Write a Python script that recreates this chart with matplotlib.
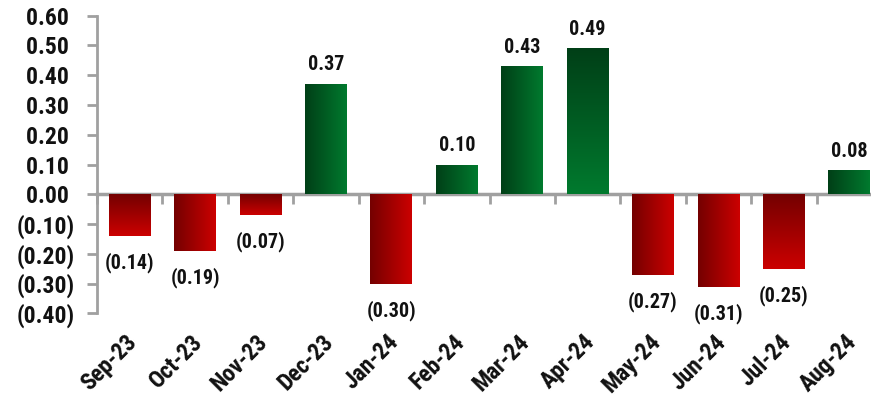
import numpy as np
import matplotlib
matplotlib.use("Agg")
import matplotlib.pyplot as plt
from matplotlib import font_manager
from matplotlib.colors import LinearSegmentedColormap
from matplotlib.ticker import FixedLocator, FuncFormatter
from matplotlib.transforms import ScaledTranslation

# ---- data ----
months = ["Sep-23", "Oct-23", "Nov-23", "Dec-23", "Jan-24", "Feb-24",
          "Mar-24", "Apr-24", "May-24", "Jun-24", "Jul-24", "Aug-24"]
values = [-0.14, -0.19, -0.07, 0.37, -0.30, 0.10, 0.43, 0.49,
          -0.27, -0.31, -0.25, 0.08]
y_ticks = [-0.40, -0.30, -0.20, -0.10, 0.00, 0.10, 0.20, 0.30, 0.40, 0.50, 0.60]

# style: gradient direction per bar (h = left->right, v = top->bottom)
grad_dir = ["v", "h", "v", "h", "h", "h", "h", "v", "h", "h", "v", "h"]

# ---- font ----
avail = {f.name for f in font_manager.fontManager.ttflist}
family = "Liberation Sans"
for cand in ["Liberation Sans Narrow", "Arial Narrow", "Roboto Condensed",
             "Open Sans Condensed", "Liberation Sans"]:
    if cand in avail:
        family = cand
        break
plt.rcParams["font.family"] = [family, "DejaVu Sans"]
plt.rcParams["font.weight"] = "bold"

W, H = 871, 396
fig = plt.figure(figsize=(W / 100, H / 100), dpi=100)
ax_left = 97 / W
ax_width = (882 - 97) / W
ax_bottom = (H - 313.3) / H
ax_height = (313.3 - 15.7) / H
ax = fig.add_axes([ax_left, ax_bottom, ax_width, ax_height])

x = np.arange(len(months))
bars = ax.bar(x, values, width=0.64, facecolor="none", edgecolor="none", zorder=3)

red_cmap = LinearSegmentedColormap.from_list("r", ["#740000", "#cc0000"])
green_cmap = LinearSegmentedColormap.from_list("g", ["#003f17", "#007a2e"])

for b, v, d in zip(bars, values, grad_dir):
    x0, y0 = b.get_x(), b.get_y()
    x1, y1 = x0 + b.get_width(), y0 + b.get_height()
    ylo, yhi = min(y0, y1), max(y0, y1)
    cmap = green_cmap if v >= 0 else red_cmap
    if d == "h":
        grad = np.linspace(0, 1, 256).reshape(1, -1)
    else:
        grad = np.linspace(0, 1, 256).reshape(-1, 1)  # origin upper: top dark
    im = ax.imshow(grad, cmap=cmap, extent=[x0, x1, ylo, yhi], aspect="auto",
                   origin="upper", zorder=3, interpolation="bilinear")
    im.set_clip_path(b)

    label = f"{v:.2f}" if v >= 0 else f"({abs(v):.2f})"
    if v >= 0:
        ax.annotate(label, (b.get_x() + b.get_width() / 2, v), xytext=(0, 7),
                    textcoords="offset points", ha="center", va="bottom",
                    fontsize=14.5, fontweight="bold", color="#111111", zorder=5)
    else:
        ax.annotate(label, (b.get_x() + b.get_width() / 2, v), xytext=(0, -12),
                    textcoords="offset points", ha="center", va="top",
                    fontsize=14.5, fontweight="bold", color="#111111", zorder=5)

ax.set_xlim(-0.5, len(months) - 0.5)
ax.set_ylim(-0.40, 0.60)

# y axis
ax.yaxis.set_major_locator(FixedLocator(y_ticks))
def yfmt(v, pos):
    if v < -1e-9:
        return f"({abs(v):.2f})"
    return f"{abs(v):.2f} "
ax.yaxis.set_major_formatter(FuncFormatter(yfmt))
ax.tick_params(axis="y", direction="out", length=7, width=2, color="#a0a0a0",
               pad=9, labelsize=17, labelcolor="#111111")
for lbl in ax.get_yticklabels():
    lbl.set_fontweight("bold")

# x axis labels
ax.set_xticks(x)
ax.set_xticklabels(months, rotation=45, ha="right", va="center",
                   rotation_mode="anchor",
                   fontsize=17, fontweight="bold", color="#111111")
ax.tick_params(axis="x", length=0, pad=18)
shift = ScaledTranslation(4 / 100, 0, fig.dpi_scale_trans)
for lbl in ax.get_xticklabels():
    lbl.set_transform(lbl.get_transform() + shift)

for s in ["top", "right", "bottom"]:
    ax.spines[s].set_visible(False)
ax.spines["left"].set_color("#a0a0a0")
ax.spines["left"].set_linewidth(2)

# zero line with category-boundary ticks
sec = ax.secondary_xaxis(0.4)
sec.set_xticks(np.arange(-0.5, len(months) + 0.5, 1.0))
sec.set_xticklabels([])
sec.tick_params(axis="x", direction="out", length=7, width=2, color="#a0a0a0")
sec.spines["bottom"].set_color("#a0a0a0")
sec.spines["bottom"].set_linewidth(2.5)

fig.savefig("out.png", dpi=100)
